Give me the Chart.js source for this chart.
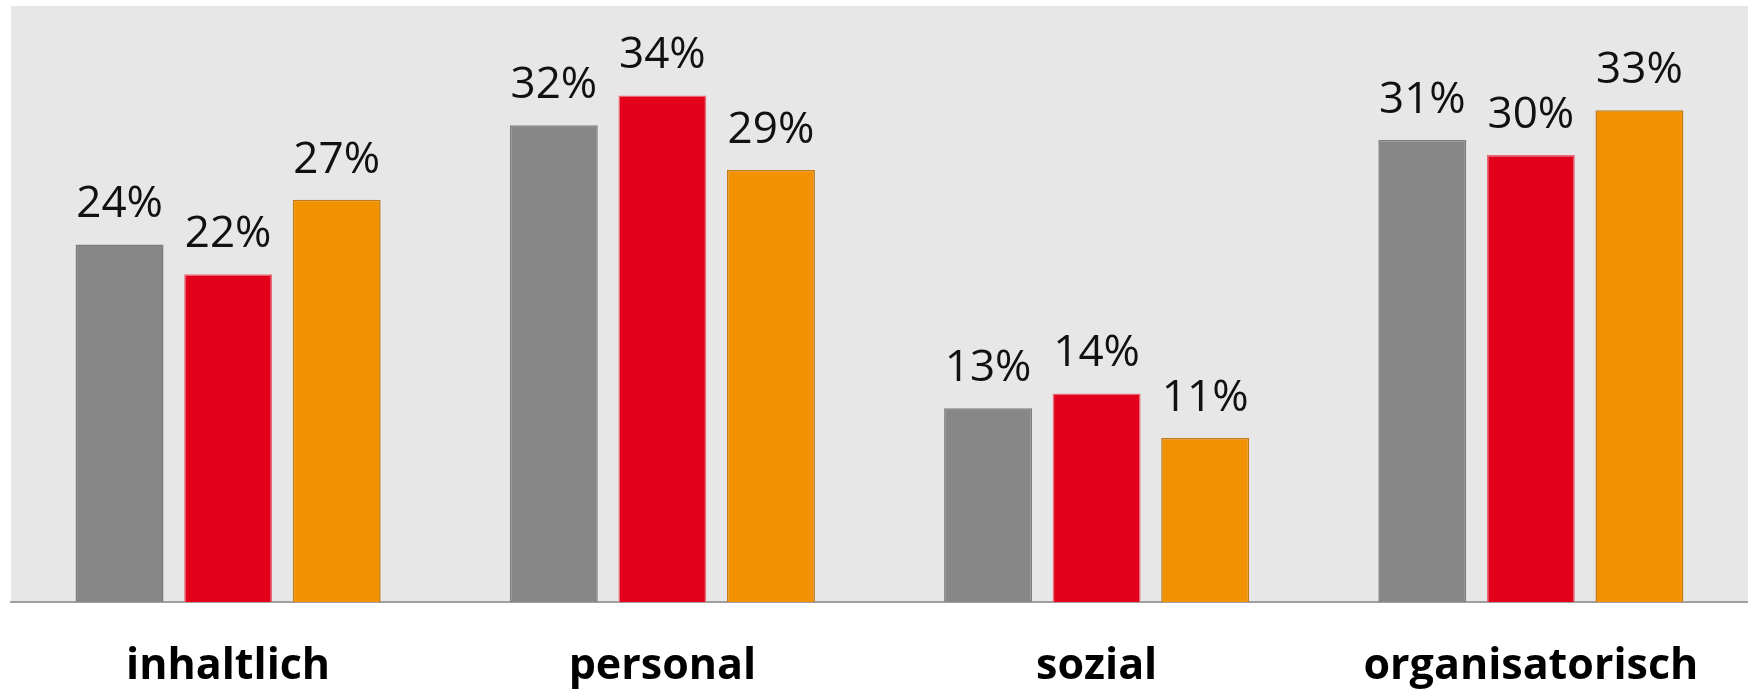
<!DOCTYPE html>
<html>
<head>
<meta charset="utf-8">
<script src="https://cdn.jsdelivr.net/npm/chart.js@4"></script>
<style>
  html, body { margin:0; padding:0; background:#fff; }
  #wrap { width:1748px; height:690px; }
</style>
</head>
<body>
<div id="wrap"><canvas id="chartBars" width="1748" height="690"></canvas></div>
<script>
// Werte (Prozent)
const kategorien = ['inhaltlich', 'personal', 'sozial', 'organisatorisch'];
const serieGrau   = [24, 32, 13, 31];
const serieRot    = [22, 34, 14, 30];
const serieOrange = [27, 29, 11, 33];

// Hintergrund der Zeichenfläche
const plotBg = {
  id:'plotBg',
  beforeDraw(chart){
    const {ctx, chartArea:a} = chart;
    ctx.save();
    ctx.fillStyle = '#e7e7e7';
    ctx.fillRect(a.left, a.top, a.right - a.left, a.bottom - a.top);
    ctx.restore();
  }
};

// Prozentwerte über den Balken
const barLabels = {
  id:'barLabels',
  afterDatasetsDraw(chart){
    const ctx = chart.ctx;
    ctx.save();
    ctx.font = '44px "Open Sans"';
    ctx.fillStyle = '#111';
    ctx.textAlign = 'center';
    ctx.textBaseline = 'alphabetic';
    chart.data.datasets.forEach((ds, i) => {
      chart.getDatasetMeta(i).data.forEach((bar, j) => {
        ctx.fillText(ds.data[j] + '%', bar.x, bar.y - 27);
      });
    });
    ctx.restore();
  }
};

function initChart(){
  new Chart(document.getElementById('chartBars').getContext('2d'), {
    type:'bar',
    data:{
      labels:kategorien,
      datasets:[
        { data:serieGrau,   backgroundColor:'#878787', borderColor:'#7d7d7d', borderWidth:1.5 },
        { data:serieRot,    backgroundColor:'#e2001a', borderColor:'#e86a78', borderWidth:1.5 },
        { data:serieOrange, backgroundColor:'#f39200', borderColor:'#c17a14', borderWidth:1.5 }
      ]
    },
    options:{
      responsive:false,
      animation:false,
      layout:{ padding:{ left:11, top:6, right:0, bottom:0 } },
      categoryPercentage:0.75,
      barPercentage:0.81,
      plugins:{ legend:{ display:false }, tooltip:{ enabled:false } },
      scales:{
        x:{
          grid:{ display:false, drawTicks:false },
          border:{ display:true, color:'#a0a0a0', width:2 },
          ticks:{ color:'#000', font:{ family:'"Open Sans"', size:43, weight:'bold' }, padding:39 },
          afterFit(scale){ scale.height = 88; }
        },
        y:{ display:false, min:0, max:40 }
      }
    },
    plugins:[plotBg, barLabels]
  });
}
document.addEventListener('DOMContentLoaded', initChart);
</script>
</body>
</html>
